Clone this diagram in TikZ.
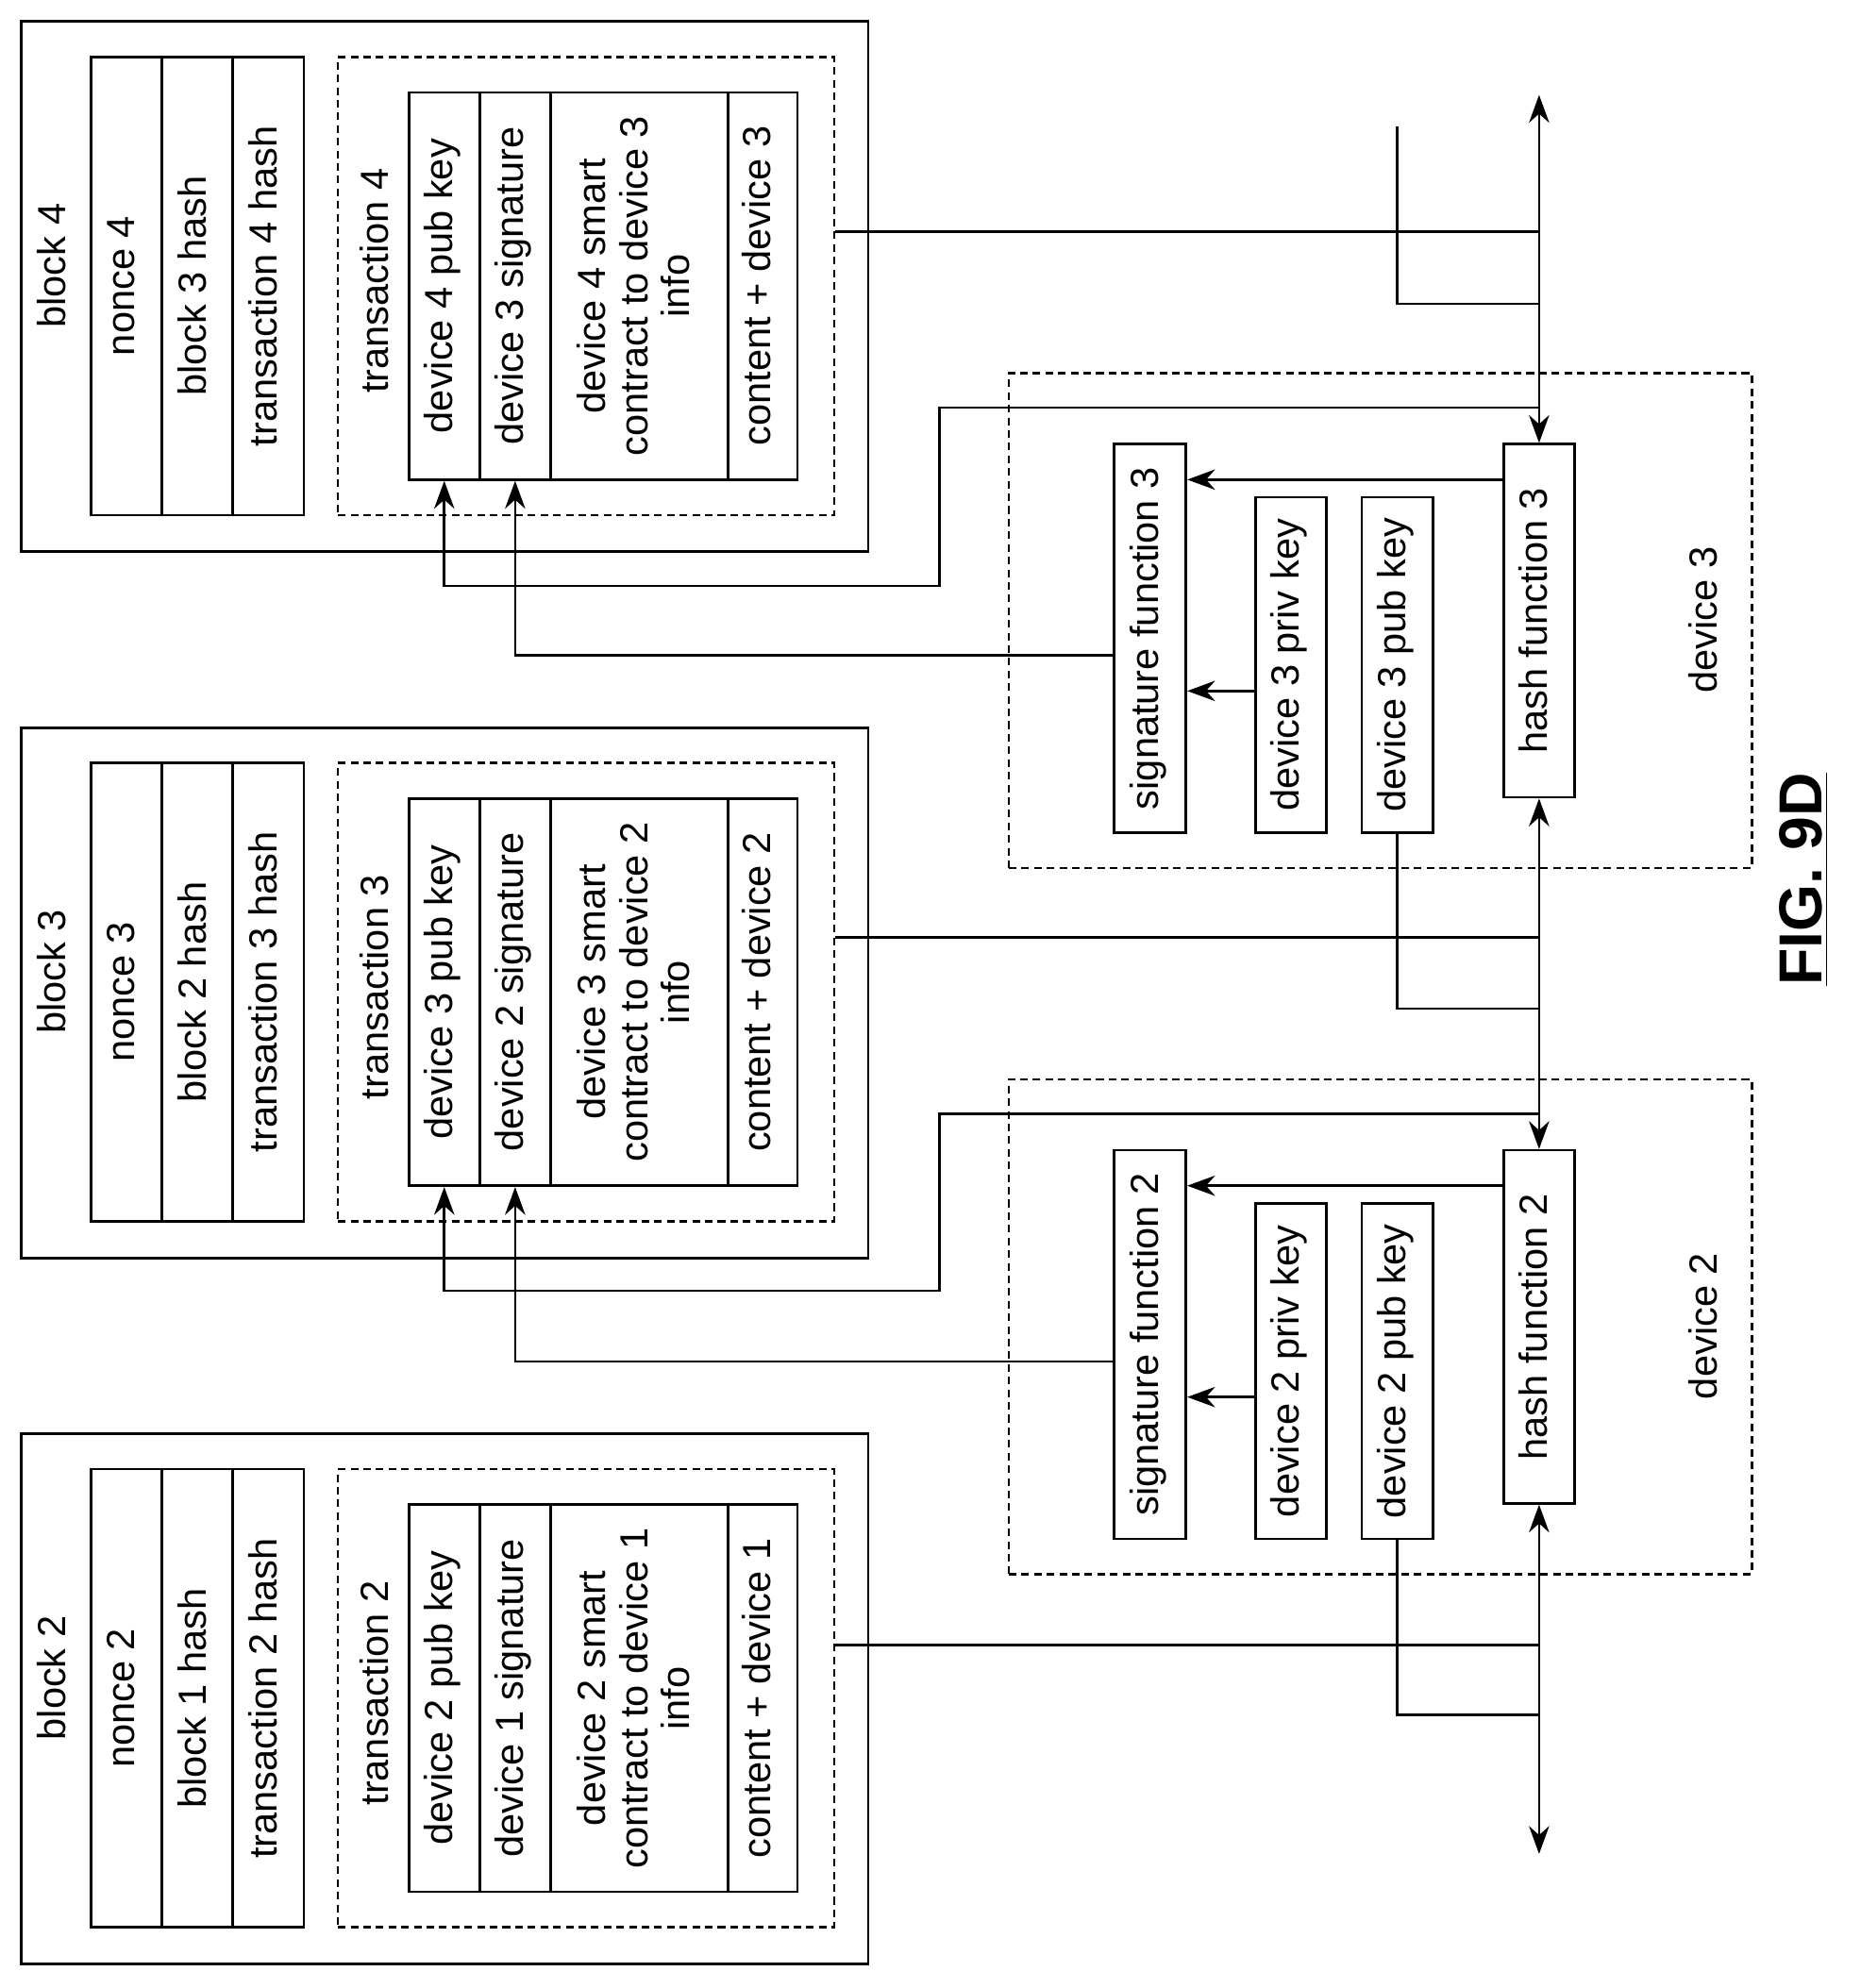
\documentclass[tikz,border=0pt]{standalone}
\usepackage{fontspec}
\setmainfont{Liberation Sans}
\usetikzlibrary{arrows.meta}
\tikzset{
cell/.style={draw, line width=1pt, inner sep=0pt, align=center},
dbox/.style={draw, line width=1pt, dash pattern=on 3pt off 2pt},
lbl/.style={inner sep=0pt},
arr/.style={line width=1pt, -{Stealth[length=11pt,width=8pt]}},
ln/.style={line width=1pt},
}
\newcommand{\rt}[1]{\rotatebox{90}{\begin{tabular}{@{}c@{}}#1\end{tabular}}}
\begin{document}
\begin{tikzpicture}[x=0.5pt,y=-0.5pt,font=\fontsize{15.5}{16.5}\selectfont]
\useasboundingbox (0,0) rectangle (1470,1571);
% blocks
\foreach \n/\p [count=\k from 0] in {4/3,3/2,2/1}{
  \pgfmathsetmacro{\o}{558*\k}
  \node[cell, minimum width=334.5pt, minimum height=209.5pt] (blk\n) at (351.5,226.5+\o) {};
  \node[lbl] at (45,210+\o) {\rt{block \n}};
  \node[cell, minimum width=28pt, minimum height=181pt] (non\n) at (100,226+\o) {\rt{nonce \n}};
  \node[cell, minimum width=28pt, minimum height=181pt] (bh\n) at (156,226+\o) {\rt{block \p\ hash}};
  \node[cell, minimum width=28pt, minimum height=181pt] (th\n) at (212,226+\o) {\rt{transaction \n\ hash}};
  \node[dbox, minimum width=196pt, minimum height=181pt] (tx\n) at (463,226+\o) {};
  \node[lbl] at (300,222+\o) {\rt{transaction \n}};
  \node[cell, minimum width=28pt, minimum height=153pt] (pub\n) at (351,226+\o) {\rt{device \n\ pub key}};
  \node[cell, minimum width=28pt, minimum height=153pt] (sig\n) at (407,226+\o) {\rt{device \p\ signature}};
  \node[cell, minimum width=70pt, minimum height=153pt] (sc\n) at (505,226+\o) {\rt{device \n\ smart\\contract to device \p\\info}};
  \node[cell, minimum width=27.5pt, minimum height=153pt] (con\n) at (602.5,226+\o) {\rt{content + device \p}};
}
% devices
\foreach \d [count=\k from 0] in {3,2}{
  \pgfmathsetmacro{\o}{558*\k}
  \node[dbox, minimum width=293.5pt, minimum height=195.5pt] (dev\d) at (1090.5,490.5+\o) {};
  \node[lbl] at (1350,490+\o) {\rt{device \d}};
  \node[cell, minimum width=28.5pt, minimum height=153.5pt] (sf\d) at (908.5,504.5+\o) {\rt{signature function \d}};
  \node[cell, minimum width=28pt, minimum height=132.5pt] (pk\d) at (1020,525.5+\o) {\rt{device \d\ priv key}};
  \node[cell, minimum width=28pt, minimum height=132.5pt] (pb\d) at (1104,525.5+\o) {\rt{device \d\ pub key}};
  \node[cell, minimum width=28pt, minimum height=139.5pt] (hf\d) at (1216,490.5+\o) {\rt{hash function \d}};
  \draw[arr] (hf\d.west|-0,379+\o) -- (sf\d.east|-0,379+\o);
  \draw[arr] (pk\d.west|-0,546+\o) -- (sf\d.east|-0,546+\o);
}
\coordinate (top) at (1216,75);
\coordinate (bot) at (1216,1465);
\coordinate (in4) at (1104,100);
% block 4 / device 3
\draw[ln] (tx4.east|-0,183) -- (1216,183);
\draw[arr] (1216,183) -- (top);
\draw[arr] (1216,183) -- (hf3.north);
\draw[ln] (in4) |- (1216,240);
\draw[arr] (1216,322) -| (742,463) -| (pub4.south);
\draw[arr] (sf3.west|-0,518) -| (sig4.south);
% block 3 / device 2
\draw[ln] (tx3.east|-0,741) -- (1216,741);
\draw[arr] (1216,741) -- (hf3.south);
\draw[arr] (1216,741) -- (hf2.north);
\draw[ln] (pb3.south) |- (1216,797);
\draw[arr] (1216,880) -| (742,1020) -| (pub3.south);
\draw[arr] (sf2.west|-0,1076) -| (sig3.south);
% block 2
\draw[ln] (tx2.east|-0,1300) -- (1216,1300);
\draw[arr] (1216,1300) -- (hf2.south);
\draw[arr] (1216,1300) -- (bot);
\draw[ln] (pb2.south) |- (1216,1355);
\node[lbl, font=\bfseries\fontsize{24}{24}\selectfont] (fig) at (1425,695) {\rotatebox{90}{\underline{FIG. 9D}}};
\end{tikzpicture}
\end{document}
